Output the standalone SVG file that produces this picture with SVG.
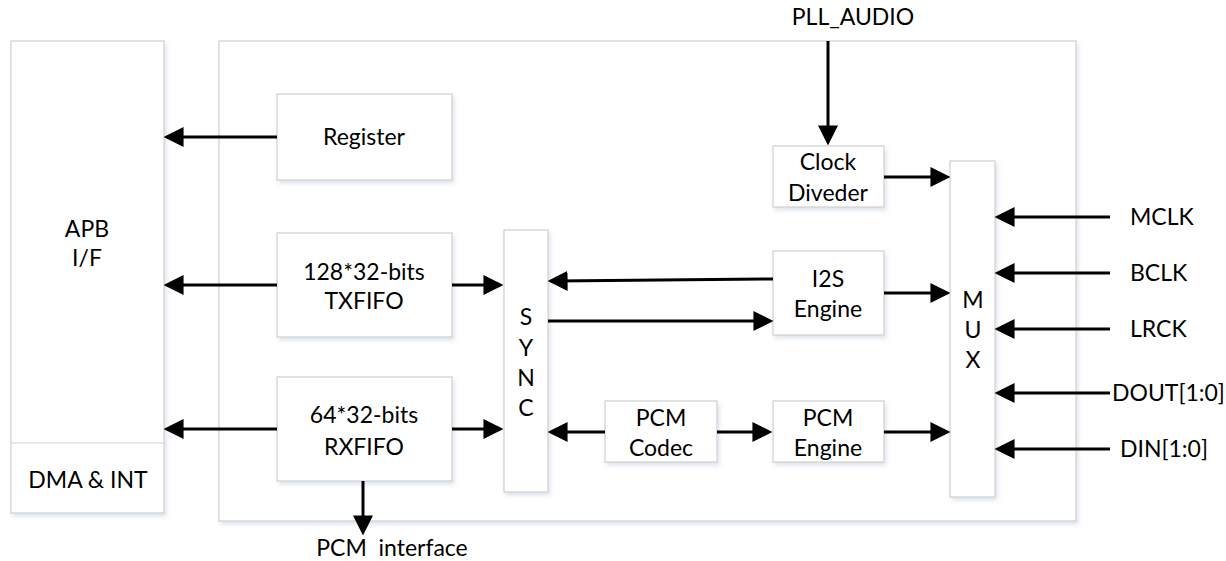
<svg xmlns="http://www.w3.org/2000/svg" width="1226" height="561" viewBox="0 0 1226 561">
<defs>
  <filter id="sh" x="-10%" y="-10%" width="130%" height="130%">
    <feDropShadow dx="2" dy="3" stdDeviation="2" flood-color="#9fb4cf" flood-opacity="0.35"/>
  </filter>
  <marker id="ah" markerUnits="userSpaceOnUse" markerWidth="20" markerHeight="20" viewBox="0 0 19 19" refX="11" refY="9.5" orient="auto">
    <path d="M0,0 L19,9.5 L0,19 z" fill="#000"/>
  </marker>
</defs>
<style>
  .box { fill: #fff; stroke: #d0d0d0; stroke-width: 1.2; filter: url(#sh); }
  .t { font-family: Lato, "Liberation Sans", sans-serif; font-size: 23px; fill: #000; text-anchor: middle; }
  .l { font-family: Lato, "Liberation Sans", sans-serif; font-size: 23px; fill: #000; text-anchor: start; }
  .c { stroke: #000; stroke-width: 3; fill: none; marker-end: url(#ah); }
</style>
<rect width="1226" height="561" fill="#fff"/>

<g id="outer">
  <rect class="box" x="219" y="41" width="857" height="480"/>
</g>
<g id="apb">
  <rect class="box" x="11" y="41" width="153" height="472"/>
  <line x1="11" y1="443" x2="164" y2="443" stroke="#d0d0d0" stroke-width="1.2"/>
  <text class="t" x="87" y="237">APB</text>
  <text class="t" x="87" y="266">I/F</text>
  <text class="t" x="88" y="488">DMA &amp; INT</text>
</g>
<g id="register">
  <rect class="box" x="277" y="94" width="175" height="86"/>
  <text class="t" x="364" y="145">Register</text>
</g>
<g id="txfifo">
  <rect class="box" x="277" y="233" width="175" height="104"/>
  <text class="t" x="364" y="280">128*32-bits</text>
  <text class="t" x="364" y="309">TXFIFO</text>
</g>
<g id="rxfifo">
  <rect class="box" x="277" y="377" width="175" height="104"/>
  <text class="t" x="364" y="423">64*32-bits</text>
  <text class="t" x="364" y="455">RXFIFO</text>
</g>
<g id="sync">
  <rect class="box" x="504" y="230" width="44" height="262"/>
  <text class="t" x="526" y="325">S</text>
  <text class="t" x="526" y="356">Y</text>
  <text class="t" x="526" y="386">N</text>
  <text class="t" x="526" y="416">C</text>
</g>
<g id="clockdiv">
  <rect class="box" x="773" y="146" width="111" height="61"/>
  <text class="t" x="828" y="170">Clock</text>
  <text class="t" x="828" y="201">Diveder</text>
</g>
<g id="i2s">
  <rect class="box" x="773" y="251" width="111" height="84"/>
  <text class="t" x="828" y="287">I2S</text>
  <text class="t" x="828" y="317">Engine</text>
</g>
<g id="pcmcodec">
  <rect class="box" x="605" y="401" width="112" height="61"/>
  <text class="t" x="661" y="426">PCM</text>
  <text class="t" x="661" y="456">Codec</text>
</g>
<g id="pcmengine">
  <rect class="box" x="773" y="401" width="111" height="61"/>
  <text class="t" x="828" y="426">PCM</text>
  <text class="t" x="828" y="456">Engine</text>
</g>
<g id="mux">
  <rect class="box" x="950" y="161" width="45" height="336"/>
  <text class="t" x="973" y="308">M</text>
  <text class="t" x="973" y="338">U</text>
  <text class="t" x="973" y="368">X</text>
</g>

<g id="labels">
  <text class="t" x="853" y="25">PLL_AUDIO</text>
  <text class="l" x="1130" y="225">MCLK</text>
  <text class="l" x="1130" y="281">BCLK</text>
  <text class="l" x="1130" y="337">LRCK</text>
  <text class="l" x="1112" y="401">DOUT[1:0]</text>
  <text class="l" x="1120" y="457">DIN[1:0]</text>
  <text class="t" x="392" y="556" xml:space="preserve">PCM  interface</text>
</g>

<g id="connectors">
  <line class="c" x1="828" y1="41" x2="828" y2="137"/>
  <line class="c" x1="884" y1="177" x2="942" y2="177"/>
  <line class="c" x1="277" y1="137" x2="172" y2="137"/>
  <line class="c" x1="277" y1="285" x2="172" y2="285"/>
  <line class="c" x1="452" y1="285" x2="495" y2="285"/>
  <line class="c" x1="277" y1="429" x2="172" y2="429"/>
  <line class="c" x1="452" y1="429" x2="495" y2="429"/>
  <line class="c" x1="363" y1="481" x2="363" y2="527"/>
  <line class="c" x1="773" y1="279" x2="556" y2="281"/>
  <line class="c" x1="548" y1="321" x2="765" y2="321"/>
  <line class="c" x1="884" y1="293" x2="942" y2="293"/>
  <line class="c" x1="605" y1="432" x2="556" y2="432"/>
  <line class="c" x1="717" y1="432" x2="764" y2="432"/>
  <line class="c" x1="884" y1="432" x2="942" y2="432"/>
  <line class="c" x1="1110" y1="217" x2="1003" y2="217"/>
  <line class="c" x1="1110" y1="273" x2="1003" y2="273"/>
  <line class="c" x1="1110" y1="329" x2="1003" y2="329"/>
  <line class="c" x1="1110" y1="393" x2="1003" y2="393"/>
  <line class="c" x1="1110" y1="449" x2="1003" y2="449"/>
</g>
</svg>
